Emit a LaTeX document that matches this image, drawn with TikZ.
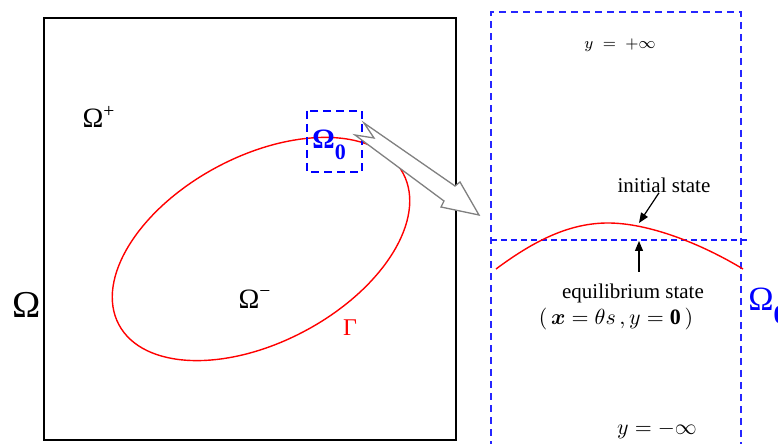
\documentclass[tikz,border=0pt]{standalone}
\usepackage{fontspec}
\setmainfont{Liberation Serif}
\usepackage{bm}
\usetikzlibrary{arrows.meta}

\tikzset{
  boundary/.style={draw=black, line width=0.65pt},
  interface/.style={draw=red, line width=0.7pt},
  spot/.style={draw=blue, line width=1pt, dash pattern=on 4pt off 2.5pt},
  window/.style={draw=blue!85!white, line width=0.75pt, dash pattern=on 3.5pt off 2.5pt},
  restline/.style={draw=blue!90!white, line width=0.7pt, dash pattern=on 3pt off 2pt},
  zoomarrow/.style={draw=gray, fill=white, line width=0.65pt, line join=miter},
  pointer/.style={line width=0.6pt, -{Triangle[length=5pt, width=4pt]}},
  lbl/.style={inner sep=0pt, font=\fontsize{10.5}{12}\selectfont}
}

\newcommand{\omegazero}[2]{%
  \fontsize{#1}{#1}\selectfont Ω\raisebox{-0.4em}{\fontsize{#2}{#2}\selectfont\bfseries 0}}

\begin{document}
\begin{tikzpicture}[x=0.5pt, y=-0.5pt]
  \useasboundingbox (0, 0) rectangle (778, 444);

  % left: the domain and the interface
  \draw[boundary] (44, 18) rectangle (456, 440);
  \draw[interface, rotate around={28:(261, 249)}]
    (261, 249) ellipse [x radius=161, y radius=93];

  \node[inner sep=0pt, font=\fontsize{19}{19}\selectfont] (omega) at (27, 305) {Ω};
  \node[inner sep=0pt, font=\fontsize{14}{14}\selectfont] (plus) at (99, 117) {Ω\textsuperscript{+}};
  \node[inner sep=0pt, font=\fontsize{14}{14}\selectfont] (minus) at (255, 299) {Ω\textsuperscript{−}};
  \node[inner sep=0pt, red, font=\fontsize{12}{12}\selectfont] (gamma) at (350, 328) {Γ};

  \draw[spot] (307, 111) rectangle (362, 172);
  \node[inner sep=0pt, blue, anchor=west, font=\bfseries] (zero) at (312, 145) {\omegazero{14}{11}};

  % zoom arrow
  \draw[zoomarrow] (364, 123) -- (455, 186) -- (460, 182) -- (479, 215)
    -- (441, 207) -- (444, 201) -- (355, 135) -- (374, 138) -- cycle;

  % right: the close-up window
  \draw[window] (491, 460) -- (491, 12) -- (741, 12) -- (741, 460);
  \draw[restline] (491, 240) -- (748, 240);
  \draw[interface] (496, 269) .. controls (535, 240) and (570, 223) .. (608, 223)
    .. controls (648, 223) and (700, 243) .. (743, 269);

  \node[lbl, font=\fontsize{8.5}{10}\selectfont] (top) at (620, 45) {$y\;=\;+\infty$};
  \node[lbl] (initial) at (664, 185) {initial state};
  \node[lbl] (equil) at (633, 293) {equilibrium state};
  \node[lbl, font=\fontsize{11}{13}\selectfont] (coords) at (616, 319)
    {$(\,\bm{x}=\theta s\,,y=\mathbf{0}\,)$};
  \node[lbl] (bottom) at (657, 430) {$y=-\infty$};
  \node[inner sep=0pt, blue, anchor=west] (zeroR) at (748, 306) {\omegazero{17}{13}};

  \coordinate (crest) at (639, 223);
  \coordinate (rest) at (639, 241);
  \coordinate (foot) at (639, 272);
  \draw[pointer] ([xshift=-2.5pt]initial.south) -- (crest);
  \draw[pointer] (foot) -- (rest);
\end{tikzpicture}
\end{document}
